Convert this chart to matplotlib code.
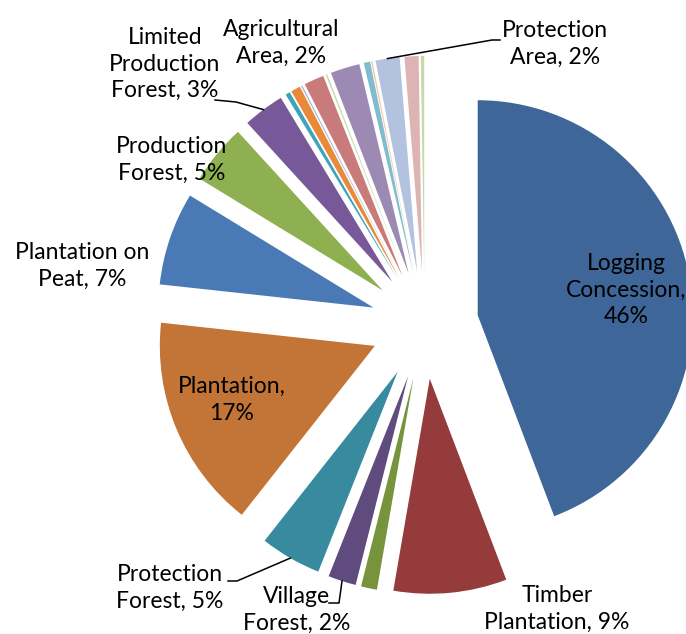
import numpy as np
import matplotlib
matplotlib.use("Agg")
from matplotlib import pyplot as plt

# slice shares (percent of the pie, read clockwise from 12 o'clock)
names = ['Logging Concession', 'Timber Plantation', 'Other A', 'Village Forest',
         'Protection Forest', 'Plantation', 'Plantation on Peat', 'Production Forest',
         'Limited Production Forest', 'Other B', 'Other C', 'Other D', 'Other E',
         'Other F', 'Agricultural Area', 'Other G', 'Other H', 'Protection Area',
         'Other I', 'Other J']
shares = [44.2, 8.5, 1.2, 2.1, 4.6, 16.1, 7.0, 4.5, 3.1,
          0.35, 0.72, 0.10, 1.50, 0.12, 2.20, 0.48, 0.10, 1.80, 1.05, 0.25]
colors = ['#3E6698', '#953B3B', '#77933C', '#5F4B7E', '#388A9E', '#C27536',
          '#4A7AB5', '#8FB050', '#77599A', '#3FA3BE', '#E88A3A', '#A4B6DC',
          '#C97A7A', '#C8DCA8', '#9C8AB5', '#80BCD0', '#F5C4A0', '#B3C2DF',
          '#DDB3B3', '#C6D9A6']

# label text shown on the chart
label_text = {
    'Logging Concession': 'Logging\nConcession,\n46%',
    'Timber Plantation': 'Timber\nPlantation, 9%',
    'Village Forest': 'Village\nForest, 2%',
    'Protection Forest': 'Protection\nForest, 5%',
    'Plantation': 'Plantation,\n17%',
    'Plantation on Peat': 'Plantation on\nPeat, 7%',
    'Production Forest': 'Production\nForest, 5%',
    'Limited Production Forest': 'Limited\nProduction\nForest, 3%',
    'Agricultural Area': 'Agricultural\nArea, 2%',
    'Protection Area': 'Protection\nArea, 2%',
}

W, H = 686, 634
CX, CY, R = 424.6, 325.0, 215.0


def px(x, y):
    # pixel position -> data coords (pie radius = 1)
    return (x - CX) / R, (CY - y) / R


label_pos = {
    'Logging Concession': (626, 290),
    'Timber Plantation': (557, 609),
    'Village Forest': (297, 610),
    'Protection Forest': (170, 588),
    'Plantation': (232, 400),
    'Plantation on Peat': (82, 266),
    'Production Forest': (172, 160),
    'Limited Production Forest': (165, 64),
    'Agricultural Area': (281, 43),
    'Protection Area': (555, 44),
}
# elbow points of leader lines (pixels), from label side toward the slice
leaders = {
    'Limited Production Forest': [(215, 100), (236, 102)],
    'Protection Area': [(500, 40), (492, 40)],
    'Protection Forest': [(228, 581), (237, 581)],
    'Village Forest': [(329, 603), (339, 603)],
}

plt.rcParams['font.family'] = ['Lato', 'DejaVu Sans']

fig = plt.figure(figsize=(W / 100, H / 100), dpi=100)
ax = fig.add_axes([0, 0, 1, 1])
ax.axis('off')

wedges, _ = ax.pie(shares, colors=colors, startangle=90, counterclock=False,
                   explode=[54 / R] * len(shares), radius=1,
                   wedgeprops=dict(linewidth=0), normalize=True)
ax.set_aspect('auto')
ax.set_xlim(-CX / R, (W - CX) / R)
ax.set_ylim(-(H - CY) / R, CY / R)

for name, txt in label_text.items():
    x, y = px(*label_pos[name])
    ax.text(x, y, txt, ha='center', va='center', multialignment='center',
            fontsize=16.5, color='black', linespacing=1.33, clip_on=False)

for name, pts in leaders.items():
    w = wedges[names.index(name)]
    mid = np.deg2rad((w.theta1 + w.theta2) / 2)
    ex = w.center[0] + w.r * np.cos(mid)
    ey = w.center[1] + w.r * np.sin(mid)
    xs = [px(*p)[0] for p in pts] + [ex]
    ys = [px(*p)[1] for p in pts] + [ey]
    ax.plot(xs, ys, color='black', linewidth=1.1)

fig.savefig('out.png', dpi=100)
